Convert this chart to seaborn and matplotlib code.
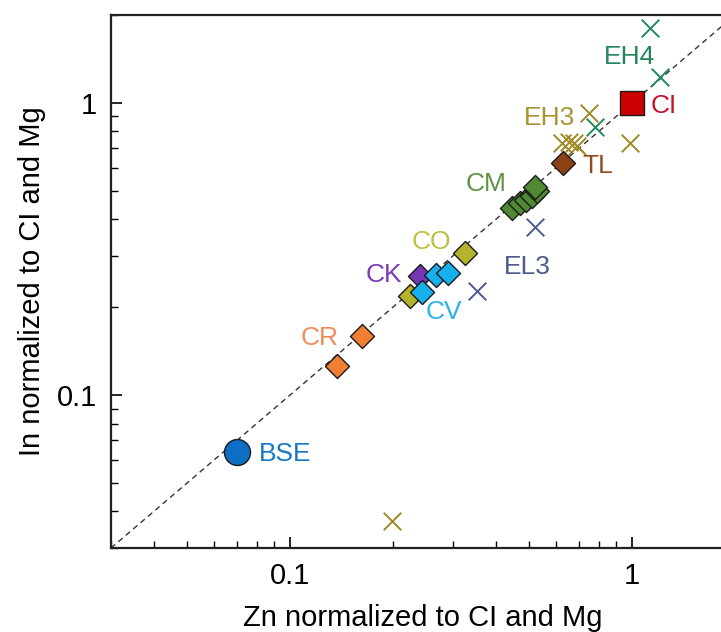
import matplotlib
matplotlib.use("Agg")
import matplotlib.pyplot as plt
import matplotlib.ticker as mticker
import seaborn as sns
import pandas as pd
import numpy as np

sns.set_theme(style="white")
plt.rcParams['font.family'] = ['Liberation Sans', 'DejaVu Sans']

# ---- data (Zn, In normalized to CI and Mg) ----
groups = ["EH3", "EH4", "EL3", "CR", "CO", "CK", "CV", "CM", "TL", "BSE", "CI"]

eh3_x = [0.748, 0.624, 0.654, 0.677, 0.690, 0.987, 0.199]
eh3_y = [0.924, 0.730, 0.735, 0.730, 0.712, 0.730, 0.037]
eh4_x = [1.13, 1.21, 0.78]
eh4_y = [1.81, 1.23, 0.828]
el3_x = [0.520, 0.352]
el3_y = [0.376, 0.227]
cr_x = [0.163, 0.137]
cr_y = [0.160, 0.126]
co_x = [0.325, 0.225]
co_y = [0.306, 0.218]
ck_x = [0.240]
ck_y = [0.256]
cv_x = [0.243, 0.268, 0.290]
cv_y = [0.226, 0.258, 0.262]
cm_x = [0.446, 0.471, 0.490, 0.510, 0.527, 0.520]
cm_y = [0.437, 0.455, 0.466, 0.481, 0.500, 0.516]
tl_x = [0.628]
tl_y = [0.623]
bse_x = [0.070]
bse_y = [0.064]
ci_x = [1.0]
ci_y = [1.0]

xs = {"EH3": eh3_x, "EH4": eh4_x, "EL3": el3_x, "CR": cr_x, "CO": co_x,
      "CK": ck_x, "CV": cv_x, "CM": cm_x, "TL": tl_x, "BSE": bse_x, "CI": ci_x}
ys = {"EH3": eh3_y, "EH4": eh4_y, "EL3": el3_y, "CR": cr_y, "CO": co_y,
      "CK": ck_y, "CV": cv_y, "CM": cm_y, "TL": tl_y, "BSE": bse_y, "CI": ci_y}

colors = {"EH3": "#a08a24", "EH4": "#1f8a5c", "EL3": "#4a5a8e", "CR": "#f07f34",
          "CO": "#b4b42c", "CK": "#7636b4", "CV": "#18b0ec", "CM": "#4f8a32",
          "TL": "#8c4214", "BSE": "#0d6ec6", "CI": "#cc0000"}
label_colors = {"EH3": "#a89434", "EH4": "#23865a", "EL3": "#4a5a8e", "CR": "#f08c58",
                "CO": "#c0c044", "CK": "#7a3cb8", "CV": "#2ab2ee", "CM": "#5c9444",
                "TL": "#8e4a20", "BSE": "#1878c8", "CI": "#c8102e"}
markers = {"EH3": "x", "EH4": "x", "EL3": "x", "CR": "D", "CO": "D", "CK": "D",
           "CV": "D", "CM": "D", "TL": "D", "BSE": "o", "CI": "s"}
sizes = {"x": 160, "D": 150, "o": 350, "s": 300}

# label positions (data coords) and alignment
label_pos = {"EH4": (0.98, 1.44, "center"), "CI": (1.13, 0.975, "left"),
             "EH3": (0.681, 0.889, "right"), "TL": (0.714, 0.608, "left"),
             "CM": (0.374, 0.530, "center"), "CO": (0.26, 0.334, "center"),
             "CK": (0.188, 0.2576, "center"), "CV": (0.282, 0.193, "center"),
             "EL3": (0.494, 0.275, "center"), "CR": (0.122, 0.157, "center"),
             "BSE": (0.0812, 0.0630, "left")}

rows = []
for g in groups:
    for x, y in zip(xs[g], ys[g]):
        rows.append({"group": g, "x": x, "y": y})
df = pd.DataFrame(rows)

W, H = 721, 632
fig = plt.figure(figsize=(W / 100, H / 100), dpi=100)
ax = fig.add_axes([111 / W, 1 - 548 / H, (735 - 111) / W, (548 - 15) / H])

ax.set_xscale("log")
ax.set_yscale("log")
ax.set_xlim(0.03, 2.0)
ax.set_ylim(0.03, 2.0)

# 1:1 line
lim = np.array([0.03, 2.0])
ax.plot(lim, lim, ls=(0, (4, 3)), color="#333333", lw=1.0, zorder=1)

for g in groups:
    sub = df[df.group == g]
    m = markers[g]
    if m == "x":
        sns.scatterplot(data=sub, x="x", y="y", ax=ax, marker="x", s=sizes[m],
                        color=colors[g], linewidth=1.4, zorder=3, legend=False)
    else:
        sns.scatterplot(data=sub, x="x", y="y", ax=ax, marker=m, s=sizes[m],
                        color=colors[g], edgecolor="#1a1a1a", linewidth=1.0,
                        zorder=4, legend=False)

for g, (lx, ly, ha) in label_pos.items():
    ax.text(lx, ly, g, color=label_colors[g], fontsize=19, ha=ha, va="center", zorder=5)

ax.xaxis.set_major_locator(mticker.FixedLocator([0.1, 1]))
ax.yaxis.set_major_locator(mticker.FixedLocator([0.1, 1]))
ax.xaxis.set_major_formatter(mticker.FixedFormatter(["0.1", "1"]))
ax.yaxis.set_major_formatter(mticker.FixedFormatter(["0.1", "1"]))
ax.xaxis.set_minor_locator(mticker.LogLocator(base=10, subs=np.arange(2, 10)))
ax.yaxis.set_minor_locator(mticker.LogLocator(base=10, subs=np.arange(2, 10)))
ax.xaxis.set_minor_formatter(mticker.NullFormatter())
ax.yaxis.set_minor_formatter(mticker.NullFormatter())
ax.tick_params(axis="both", which="major", direction="in", length=8, width=1.2,
               labelsize=21, color="black", labelcolor="black", pad=10,
               top=False, right=False, bottom=True, left=True)
ax.tick_params(axis="both", which="minor", direction="in", length=5, width=1.0,
               color="black", top=False, right=False, bottom=True, left=True)

for s in ax.spines.values():
    s.set_color("#222222")
    s.set_linewidth(1.6)

ax.set_xlabel("Zn normalized to CI and Mg", fontsize=21, color="black", labelpad=10)
ax.set_ylabel("In normalized to CI and Mg", fontsize=21, color="black", labelpad=8)

fig.savefig("out.png", dpi=100)
